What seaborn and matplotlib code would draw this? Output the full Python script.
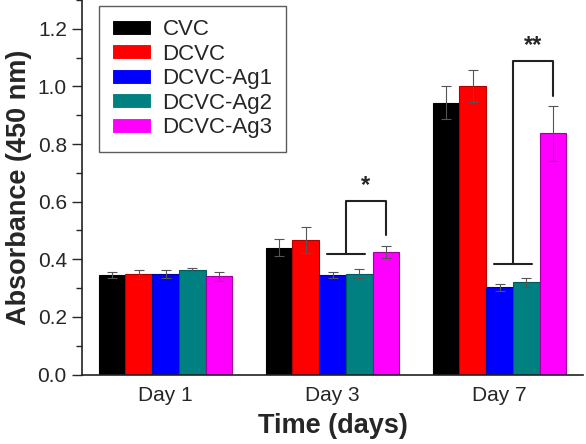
import numpy as np
import pandas as pd
import matplotlib
matplotlib.use("Agg")
import matplotlib.pyplot as plt
from matplotlib.ticker import MultipleLocator
import seaborn as sns

days = ["Day 1", "Day 3", "Day 7"]
groups = ["CVC", "DCVC", "DCVC-Ag1", "DCVC-Ag2", "DCVC-Ag3"]
cvc = [0.345, 0.440, 0.943]
dcvc = [0.348, 0.468, 1.001]
ag1 = [0.348, 0.345, 0.303]
ag2 = [0.363, 0.350, 0.320]
ag3 = [0.341, 0.425, 0.837]
cvc_err = [0.010, 0.030, 0.057]
dcvc_err = [0.015, 0.045, 0.055]
ag1_err = [0.014, 0.010, 0.012]
ag2_err = [0.005, 0.015, 0.015]
ag3_err = [0.015, 0.020, 0.095]
colors = ["#000000", "#ff0000", "#0000ff", "#008080", "#ff00ff"]
edges = ["#000000", "#b00000", "#0000a0", "#005a5a", "#a000a0"]

values = [cvc, dcvc, ag1, ag2, ag3]
errors = [cvc_err, dcvc_err, ag1_err, ag2_err, ag3_err]
df = pd.DataFrame({
    "day": days * len(groups),
    "group": np.repeat(groups, len(days)),
    "value": np.concatenate(values),
    "err": np.concatenate(errors),
})

sns.set_style("ticks")
plt.rcParams["font.family"] = ["Liberation Sans", "DejaVu Sans"]

fig = plt.figure(figsize=(5.86, 4.44), dpi=100)
ax = fig.add_axes([0.140, 0.1565, 0.855, 0.8435])

sns.barplot(data=df, x="day", y="value", hue="group", order=days,
            hue_order=groups, palette=colors, errorbar=None, width=0.8,
            saturation=1, linewidth=0.8, ax=ax)

# bars come out ordered by hue, then by day
bars = ax.patches[:len(groups) * len(days)]
centers = {}
for i, g in enumerate(groups):
    for j, d in enumerate(days):
        p = bars[i * len(days) + j]
        p.set_edgecolor(edges[i])
        x = p.get_x() + p.get_width() / 2
        centers[(g, d)] = x
        ax.errorbar(x, values[i][j], yerr=errors[i][j], color="#555555",
                    elinewidth=0.8, capsize=3.5, capthick=0.8, zorder=5)

def bracket(day, low_y, top_y, right_y, stars):
    a = centers[("DCVC-Ag1", day)]
    b = centers[("DCVC-Ag2", day)]
    c = centers[("DCVC-Ag3", day)]
    w = bars[0].get_width()
    xl0 = a - 0.2 * w
    xl1 = b + 0.2 * w
    mid = (a + b) / 2
    ax.plot([xl0, xl1], [low_y, low_y], color="#222222", lw=1.5, zorder=6)
    ax.plot([mid, mid, c, c], [low_y, top_y, top_y, right_y],
            color="#222222", lw=1.5, zorder=6)
    ax.text((mid + c) / 2, top_y + 0.012, stars, ha="center", va="bottom",
            fontsize=17, fontweight="bold")

bracket("Day 3", 0.42, 0.603, 0.483, "*")
bracket("Day 7", 0.382, 1.089, 0.966, "**")

ax.set_ylim(0, 1.3)
ax.set_xlim(-0.5, 2.5)
ax.yaxis.set_minor_locator(MultipleLocator(0.1))
ax.set_yticks(np.arange(0, 1.21, 0.2))
ax.set_yticklabels([f"{v:.1f}" for v in np.arange(0, 1.21, 0.2)])
ax.tick_params(axis="y", which="major", length=7, width=1, labelsize=15,
               direction="out", pad=4)
ax.tick_params(axis="y", which="minor", length=4, width=1, direction="out")
ax.tick_params(axis="x", length=0, labelsize=15, pad=8)
for s in ["left", "bottom"]:
    ax.spines[s].set_linewidth(1.2)
    ax.spines[s].set_color("#222222")
sns.despine(ax=ax)

ax.set_xlabel("Time (days)", fontsize=19.5, fontweight="bold", labelpad=6)
ax.set_ylabel("Absorbance (450 nm)", fontsize=19.5, fontweight="bold", labelpad=4)

leg = ax.legend(loc="upper left", bbox_to_anchor=(0.034, 0.985), fontsize=16,
                frameon=True, fancybox=False, edgecolor="#333333",
                handlelength=1.75, handleheight=0.68, labelspacing=0.16,
                borderpad=0.6, handletextpad=0.5, borderaxespad=0)
leg.get_frame().set_linewidth(1.0)

fig.savefig("out.png", dpi=100)
